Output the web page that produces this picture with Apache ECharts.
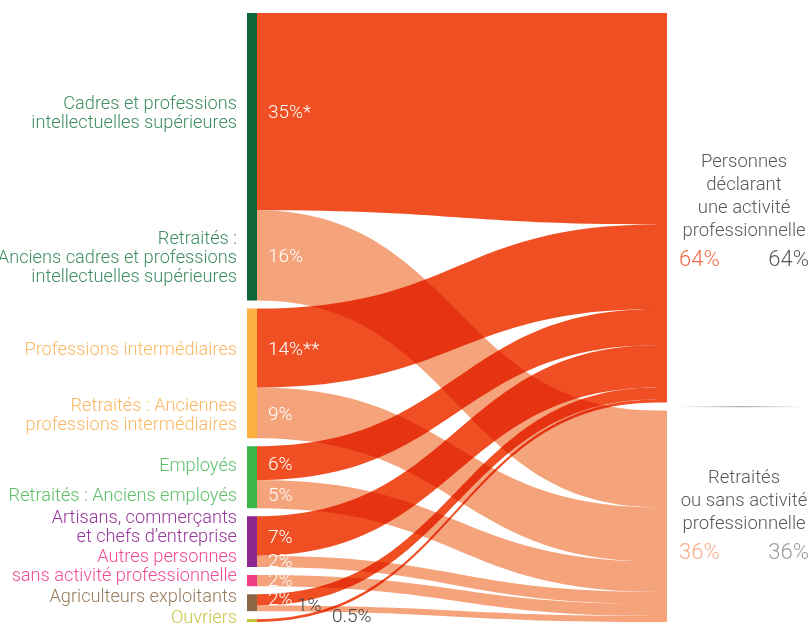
<!DOCTYPE html>
<html><head><meta charset="utf-8">
<script src="https://cdn.jsdelivr.net/npm/echarts@6/dist/echarts.min.js"></script>
<style>html,body{margin:0;padding:0;background:#fff}#c{width:811px;height:628px}</style>
</head><body><div id="c"></div>
<script>
// ---------- data ----------
const groupNames = ['Cadres', 'Professions intermédiaires', 'Employés', 'Artisans', 'Autres', 'Agriculteurs', 'Ouvriers'];
const flowGroup  = [0, 0, 1, 1, 2, 2, 3, 3, 4, 5, 5, 6];
const flowValue  = [35, 16, 14, 9, 6, 5, 7, 2, 2, 2, 1, 0.5];
const flowTarget = [0, 1, 0, 1, 0, 1, 0, 1, 1, 0, 1, 0];
const flowText   = ['35%*', '16%', '14%**', '9%', '6%', '5%', '7%', '2%', '2%', '2%', '1%', '0.5%'];
const leftLabels = [
  'Cadres et professions\nintellectuelles supérieures',
  'Retraités :\nAnciens cadres et professions\nintellectuelles supérieures',
  'Professions intermédiaires',
  'Retraités : Anciennes\nprofessions intermédiaires',
  'Employés',
  'Retraités : Anciens employés',
  'Artisans, commerçants\net chefs d’entreprise',
  'Autres personnes\nsans activité professionnelle',
  'Agriculteurs exploitants',
  'Ouvriers'
];
const leftLabelFlows = [[0], [1], [2], [3], [4], [5], [6, 7], [8], [9, 10], [11]];
const targetNames = ['Personnes\ndéclarant\nune activité\nprofessionnelle', 'Retraités\nou sans activité\nprofessionnelle'];
const targetShare = ['64%', '36%'];
const targetShare2 = ['64%', '36%'];

// ---------- style ----------
const FONT = 'Roboto, "Open Sans", sans-serif';
const GAP = 1.42;         // gap between stacks, in axis units
const NODE_W = 10;
const FLOW_COLORS = ['#f04f23', '#f5a37b'];
const groupColors = ['#0e6638', '#fbb040', '#39b54a', '#8e268f', '#ee3e84', '#8b6746', '#c2c12e'];
const labelColors = ['#3f8d61', '#fbb864', '#5fc06c', '#97379a', '#f04b95', '#987a5b', '#c8c64a'];
const leftLabelDy = [2.5, 3.5, 2.5, 3, 3.5, 2, -14, -14, -5, -2];
const pctDx = [0, 0, 0, 0, 0, 0, 0, 0, 0, 0, 29, 64];
const pctDy = [2, 2, 2, 2, 2, 2, 2, 1, 1, 0, -2, -3];
const pctColor = i => (i >= 10 ? '#444' : '#fff');
const shareColors = ['#f26a48', '#f7ab8a'];
const share2Colors = ['#5a5a5a', '#9a9a9a'];
const rightDy = [4, 0];

// ---------- layout (axis units) ----------
const total = flowValue.reduce((a, b) => a + b, 0);
const SPAN = total + (groupNames.length - 1) * GAP;
const rightScale = (SPAN - GAP) / total;
const leftY0 = [], leftY1 = [], groupY0 = [], groupY1 = [];
let yy = 0;
flowValue.forEach((v, i) => {
  if (i > 0 && flowGroup[i] !== flowGroup[i - 1]) yy += GAP;
  if (groupY0[flowGroup[i]] == null) groupY0[flowGroup[i]] = yy;
  leftY0[i] = yy; yy += v; leftY1[i] = yy;
  groupY1[flowGroup[i]] = yy;
});
const rightY0 = [], rightY1 = [], targetY0 = [], targetY1 = [];
let ry = 0;
[0, 1].forEach(t => {
  targetY0[t] = ry;
  flowValue.forEach((v, i) => {
    if (flowTarget[i] === t) { rightY0[i] = ry; ry += v * rightScale; rightY1[i] = ry; }
  });
  targetY1[t] = ry;
  ry += GAP;
});

function txt(text, x, y, fill, align, extra) {
  return { type: 'text', z2: 20, style: Object.assign({
    text: text, x: x, y: y, fill: fill, align: align, verticalAlign: 'middle',
    fontFamily: FONT, fontSize: 18.5, fontWeight: 300
  }, extra || {}) };
}

function renderFlow(params, api) {
  const i = api.value(0);
  const a0 = api.coord([0, leftY0[i]]), a1 = api.coord([0, leftY1[i]]);
  const b0 = api.coord([1, rightY0[i]]), b1 = api.coord([1, rightY1[i]]);
  const xm = (a0[0] + b0[0]) / 2;
  const d = 'M' + a0[0] + ',' + a0[1] +
    ' C' + xm + ',' + a0[1] + ' ' + xm + ',' + b0[1] + ' ' + b0[0] + ',' + b0[1] +
    ' L' + b1[0] + ',' + b1[1] +
    ' C' + xm + ',' + b1[1] + ' ' + xm + ',' + a1[1] + ' ' + a1[0] + ',' + a1[1] + ' Z';
  return { type: 'path', shape: { pathData: d }, style: { fill: FLOW_COLORS[flowTarget[i]] } };
}

function renderFlowLabel(params, api) {
  const i = api.value(0);
  const a0 = api.coord([0, leftY0[i]]), a1 = api.coord([0, leftY1[i]]);
  return txt(flowText[i], a0[0] + 11 + pctDx[i], (a0[1] + a1[1]) / 2 + pctDy[i], pctColor(i), 'left',
    { fontSize: 19 });
}

function renderNode(params, api) {
  const g = api.value(0);
  const children = [];
  const p0 = api.coord([0, groupY0[g]]), p1 = api.coord([0, groupY1[g]]);
  children.push({ type: 'rect', shape: { x: p0[0] - NODE_W, y: p0[1], width: NODE_W, height: p1[1] - p0[1] }, style: { fill: groupColors[g] } });
  if (g === 0) {
    [0, 1].forEach(t => {
      const q0 = api.coord([1, targetY0[t]]), q1 = api.coord([1, targetY1[t]]);
      children.push({ type: 'rect', shape: { x: q0[0], y: q0[1], width: NODE_W, height: q1[1] - q0[1] }, style: { fill: FLOW_COLORS[t] } });
      const n = targetNames[t].split('\n').length;
      const span = (n - 1) * 23 + 29;
      const cy = (q0[1] + q1[1]) / 2 + rightDy[t];
      const first = cy - span / 2;
      const xr = q0[0] + NODE_W;
      children.push(txt(targetNames[t], xr + 77, first + (n - 1) * 23 / 2, '#5a5a5a', 'center', { lineHeight: 23 }));
      children.push(txt(targetShare[t], xr + 12, first + span, shareColors[t], 'left', { fontSize: 22 }));
      children.push(txt(targetShare2[t], xr + 142, first + span, share2Colors[t], 'right', { fontSize: 22 }));
    });
    const e = api.coord([1, targetY1[0]]), s = api.coord([1, targetY0[1]]);
    const my = (e[1] + s[1]) / 2;
    children.push({ type: 'rect', shape: { x: e[0] + NODE_W + 12, y: my - 0.6, width: 126, height: 1.2 },
      style: { fill: new echarts.graphic.LinearGradient(0, 0, 1, 0, [
        { offset: 0, color: 'rgba(120,120,120,0)' },
        { offset: 0.5, color: 'rgba(120,120,120,0.6)' },
        { offset: 1, color: 'rgba(120,120,120,0)' }]) } });
  }
  return { type: 'group', children: children };
}

function renderLeftLabel(params, api) {
  const k = api.value(0);
  const fl = leftLabelFlows[k];
  const p0 = api.coord([0, leftY0[fl[0]]]), p1 = api.coord([0, leftY1[fl[fl.length - 1]]]);
  return txt(leftLabels[k], p0[0] - NODE_W - 10, (p0[1] + p1[1]) / 2 + leftLabelDy[k],
    labelColors[flowGroup[fl[0]]], 'right', { lineHeight: 19, fontSize: 18.2 });
}

const chart = echarts.init(document.getElementById('c'), null, { renderer: 'canvas' });
chart.setOption({
  backgroundColor: '#ffffff',
  animation: false,
  grid: { left: 257, right: 154, top: 13, bottom: 6 },
  xAxis: { type: 'value', min: 0, max: 1, show: false },
  yAxis: { type: 'value', min: 0, max: SPAN, inverse: true, show: false },
  series: [
    { type: 'custom', name: 'nodes', renderItem: renderNode, silent: true,
      data: groupNames.map((n, g) => [g, 0]) },
    { type: 'custom', name: 'flows', renderItem: renderFlow, silent: true, blendMode: 'multiply',
      data: flowValue.map((v, i) => [i, v]) },
    { type: 'custom', name: 'flowLabels', renderItem: renderFlowLabel, silent: true,
      data: flowValue.map((v, i) => [i, v]) },
    { type: 'custom', name: 'labels', renderItem: renderLeftLabel, silent: true,
      data: leftLabels.map((l, k) => [k, 0]) }
  ]
});
</script></body></html>
